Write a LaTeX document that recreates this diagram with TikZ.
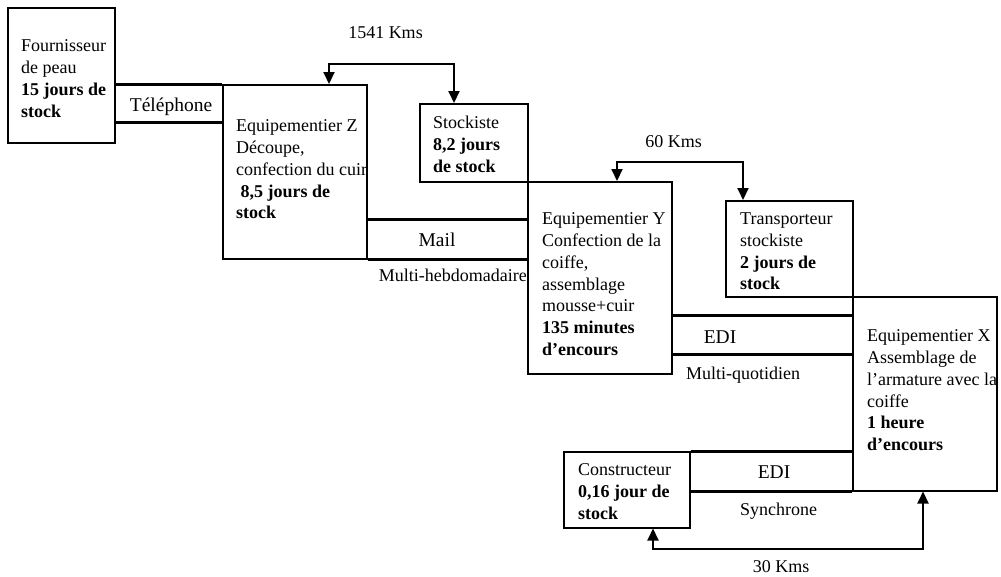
\documentclass[tikz,border=0pt]{standalone}
\usepackage{fontspec}
\setmainfont{Liberation Serif}
\usetikzlibrary{arrows.meta}

\tikzset{
  box/.style={draw, line width=1.5pt, inner sep=0pt, anchor=north west},
  boxtext/.style={anchor=north west, align=left, inner sep=0pt, font=\fontsize{18}{21.7}\selectfont},
  canal/.style={line width=3pt},
  canaltext/.style={anchor=base, inner sep=0pt, font=\fontsize{19.5}{22}\selectfont},
  note/.style={anchor=base, inner sep=0pt, font=\fontsize{18}{22}\selectfont},
  kmarrow/.style={line width=2pt, {Triangle[length=12pt,width=11pt]}-{Triangle[length=12pt,width=11pt]}}
}

\begin{document}
\begin{tikzpicture}[x=1pt, y=-1pt]
  \useasboundingbox (0,0) rectangle (1001,576);
  % boxes
  \node[box, minimum width=107pt, minimum height=135pt] (fourn) at (7,7) {};
  \node[box, minimum width=144pt, minimum height=174pt] (eqz) at (222,84) {};
  \node[box, minimum width=108pt, minimum height=78pt] (stock) at (419,103) {};
  \node[box, minimum width=144pt, minimum height=192pt] (eqy) at (527,181) {};
  \node[box, minimum width=127pt, minimum height=96pt] (transp) at (725,200) {};
  \node[box, minimum width=144pt, minimum height=194pt] (eqx) at (852,296) {};
  \node[box, minimum width=126pt, minimum height=76pt] (constr) at (563,451) {};

  \node[boxtext] (fournT) at (21,39.8) {Fournisseur\\de peau\\\textbf{15 jours de}\\\textbf{stock}};
  \node[boxtext] (eqzT) at (236,119.8) {Equipementier Z\\D\'ecoupe,\\confection du cuir\\\hspace*{4.5pt}\textbf{8,5 jours de}\\\textbf{stock}};
  \node[boxtext] (stockT) at (433,116) {Stockiste\\\textbf{8,2 jours}\\\textbf{de stock}};
  \node[boxtext] (eqyT) at (542,212.8) {Equipementier Y\\Confection de la\\coiffe,\\assemblage\\mousse+cuir\\\textbf{135 minutes}\\\textbf{d’encours}};
  \node[boxtext] (transpT) at (740,212.8) {Transporteur\\stockiste\\\textbf{2 jours de}\\\textbf{stock}};
  \node[boxtext] (eqxT) at (867,329.8) {Equipementier X\\Assemblage de\\l’armature avec la\\coiffe\\\textbf{1 heure}\\\textbf{d’encours}};
  \node[boxtext] (constrT) at (578,463.8) {Constructeur\\\textbf{0,16 jour de}\\\textbf{stock}};

  % channels
  \draw[canal] (fourn.east |- eqz.north) -- (eqz.north west);
  \draw[canal] (fourn.east |- 0,122) -- (eqz.west |- 0,122);
  \draw[canal] (eqz.east |- 0,219) -- (eqy.west |- 0,219);
  \draw[canal] (eqz.south east) -- (eqy.west |- eqz.south);
  \draw[canal] (eqy.east |- 0,315) -- (eqx.west |- 0,315);
  \draw[canal] (eqy.east |- 0,354) -- (eqx.west |- 0,354);
  \draw[canal] (constr.north east) -- (eqx.west |- constr.north);
  \draw[canal] (constr.east |- eqx.south) -- (eqx.south west);

  \node[canaltext] (tel) at (171,111) {T\'el\'ephone};
  \node[canaltext] (mail) at (437,246) {Mail};
  \node[canaltext] (edi1) at (720,343) {EDI};
  \node[canaltext] (edi2) at (774,478) {EDI};
  \node[note, anchor=base east] (hebdo) at (527,281) {Multi-hebdomadaire};
  \node[note, anchor=base west] (quot) at (686,379) {Multi-quotidien};
  \node[note, anchor=base west] (sync) at (740,515) {Synchrone};

  % distances
  \draw[kmarrow] ([xshift=107pt]eqz.north west) -- ++(0,-20) -| ([xshift=35pt]stock.north west);
  \draw[kmarrow] ([xshift=90pt]eqy.north west) -- ++(0,-19) -| ([xshift=18pt]transp.north west);
  \draw[kmarrow] ([xshift=90pt]constr.south west) -- ++(0,20) -| ([xshift=71pt]eqx.south west);
  \node[note] (km1) at (385.5,38) {1541 Kms};
  \node[note] (km2) at (673.5,147) {60 Kms};
  \node[note] (km3) at (781,572) {30 Kms};
\end{tikzpicture}
\end{document}
